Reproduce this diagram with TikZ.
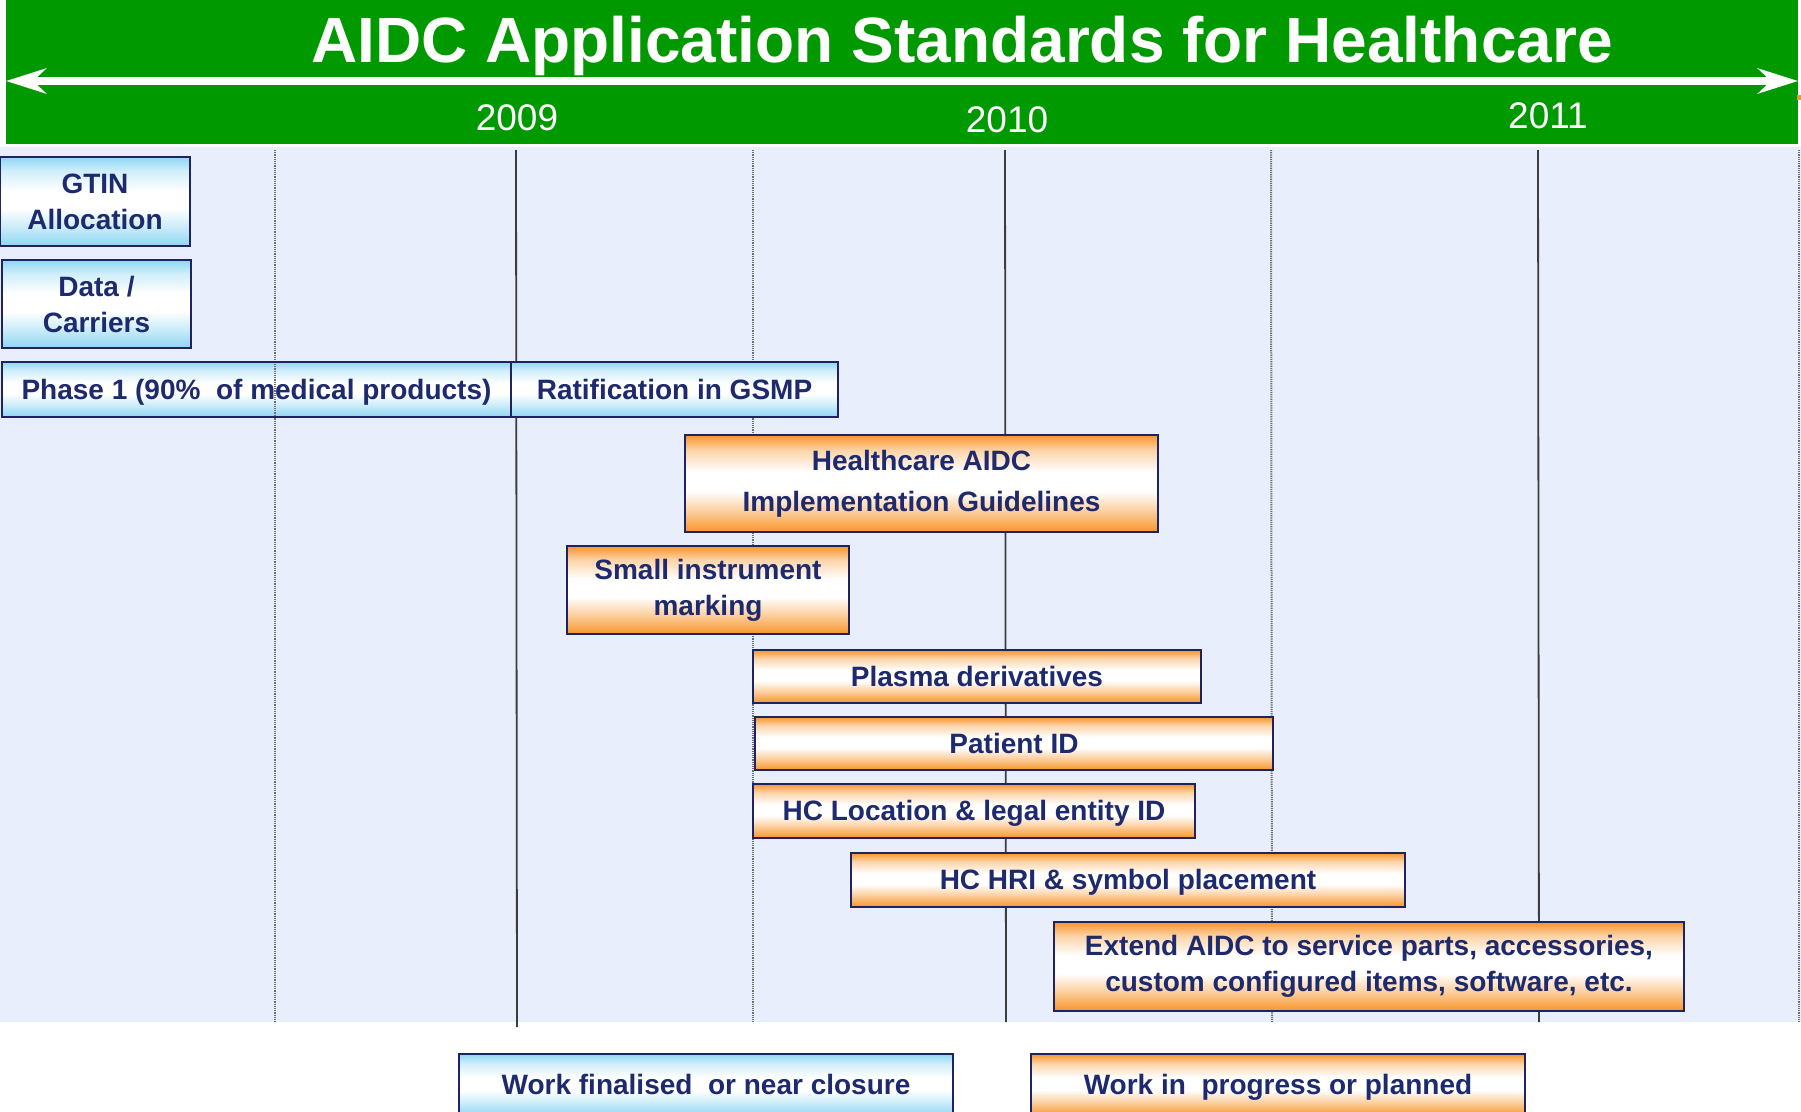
\documentclass[tikz,border=0pt]{standalone}
\usepackage{fontspec}
\setmainfont{Liberation Sans}
\usetikzlibrary{arrows.meta}
\definecolor{bannergreen}{HTML}{009900}
\definecolor{bgblue}{HTML}{E8EEFB}
\definecolor{navy}{HTML}{1E2A6E}
\definecolor{boxborder}{HTML}{1F2460}
\definecolor{boxorange}{HTML}{F8952A}
\definecolor{boxblue}{HTML}{8ED6F3}
\definecolor{gridsolid}{HTML}{3C3C3C}
\definecolor{griddot}{HTML}{6E6E6E}
\colorlet{orlight}{boxorange!40!white}
\colorlet{bllight}{boxblue!40!white}
\pgfdeclareverticalshading{orangeshade}{100bp}{color(0bp)=(boxorange); color(25bp)=(boxorange); color(37bp)=(orlight); color(46bp)=(white); color(56bp)=(white); color(67bp)=(orlight); color(75bp)=(boxorange); color(100bp)=(boxorange)}
\pgfdeclareverticalshading{blueshade}{100bp}{color(0bp)=(boxblue); color(25bp)=(boxblue); color(37bp)=(bllight); color(46bp)=(white); color(56bp)=(white); color(67bp)=(bllight); color(75bp)=(boxblue); color(100bp)=(boxblue)}
\tikzset{
  taskbox/.style={draw=boxborder, line width=2pt, text=navy, align=center, inner sep=0pt,
    font=\fontsize{28}{36}\selectfont\bfseries},
  oneline/.style={text height=20pt, text depth=1pt},
  bluebox/.style={taskbox, shade, shading=blueshade},
  orangebox/.style={taskbox, shade, shading=orangeshade},
  yearlabel/.style={text=white, anchor=base, inner sep=0pt, font=\fontsize{37}{37}\selectfont},
  solidgrid/.style={draw=gridsolid, line width=1.8pt},
  dotgrid/.style={draw=griddot, line width=2pt, dash pattern=on 1.2pt off 1pt},
  timearrow/.style={draw=white, line width=8pt,
    {Stealth[length=40pt,width=25pt,inset=13pt]}-{Stealth[length=40pt,width=25pt,inset=13pt]}}
}
\begin{document}
\begin{tikzpicture}[x=1pt,y=-1pt]
\useasboundingbox (0,0) rectangle (1801,1111);
\clip (0,0) rectangle (1801,1111);
\fill[white] (0,0) rectangle (1801,1111);
% banner
\fill[bannergreen] (6,0) rectangle (1798,144);
\fill[boxorange] (1797,95) rectangle (1801,100);
\node[text=white, anchor=base, inner sep=0pt, font=\fontsize{64}{64}\selectfont\bfseries] (title) at (962,62) {AIDC Application Standards for Healthcare};
\coordinate (arL) at (6,81);
\coordinate (arR) at (1798,81);
\draw[timearrow] (arL) -- (arR);
\node[yearlabel] (y2009) at (517,130) {2009};
\node[yearlabel] (y2010) at (1007,132) {2010};
\node[yearlabel] (y2011) at (1548,128) {2011};
% background
\fill[bgblue] (0,147) rectangle (1801,1022);
% grid lines
\draw[dotgrid] (275,150) -- (275,1022);
\draw[solidgrid] (516,150) -- (517,1027);
\draw[dotgrid] (753,150) -- (753,1022);
\draw[solidgrid] (1005,150) -- (1006,1022);
\draw[dotgrid] (1271,150) -- (1272,1022);
\draw[solidgrid] (1538,150) -- (1539,1022);
\draw[dotgrid] (1799,150) -- (1799,1022);
% finished work
\node[bluebox, minimum width=190pt, minimum height=89pt] (gtin) at (95,201.5) {GTIN\\Allocation};
\node[bluebox, minimum width=189pt, minimum height=88pt] (data) at (96.5,304) {Data /\\Carriers};
\node[bluebox, oneline, minimum width=509pt, minimum height=55pt] (phase) at (256.5,389.5) {Phase 1 (90\%\ \ of medical products)};
\node[bluebox, oneline, minimum width=327pt, minimum height=55pt] (ratif) at (674.5,389.5) {Ratification in GSMP};
\draw[dotgrid] (275,364) -- (275,416);
% work in progress
\node[orangebox, minimum width=473pt, minimum height=97pt] (guide) at (921.5,483.5) {Healthcare AIDC\\[5pt]Implementation Guidelines};
\node[orangebox, minimum width=282pt, minimum height=88pt] (small) at (708,590) {Small instrument\\marking};
\node[orangebox, oneline, minimum width=448pt, minimum height=53pt] (plasma) at (977,676.5) {Plasma derivatives};
\node[orangebox, oneline, minimum width=518pt, minimum height=53pt] (patient) at (1014,743.5) {Patient ID};
\node[orangebox, oneline, minimum width=442pt, minimum height=54pt] (hcloc) at (974,811) {HC Location \& legal entity ID};
\node[orangebox, oneline, minimum width=554pt, minimum height=54pt] (hri) at (1128,880) {HC HRI \& symbol placement};
\node[orangebox, minimum width=630pt, minimum height=89pt] (extend) at (1369,966.5) {Extend AIDC to service parts, accessories,\\custom configured items, software, etc.};
% legend
\node[bluebox, oneline, minimum width=494pt, minimum height=62pt] (legdone) at (706,1085) {Work finalised\ \ or near closure};
\node[orangebox, oneline, minimum width=494pt, minimum height=62pt] (legplan) at (1278,1085) {Work in\ \ progress or planned};
\end{tikzpicture}
\end{document}
